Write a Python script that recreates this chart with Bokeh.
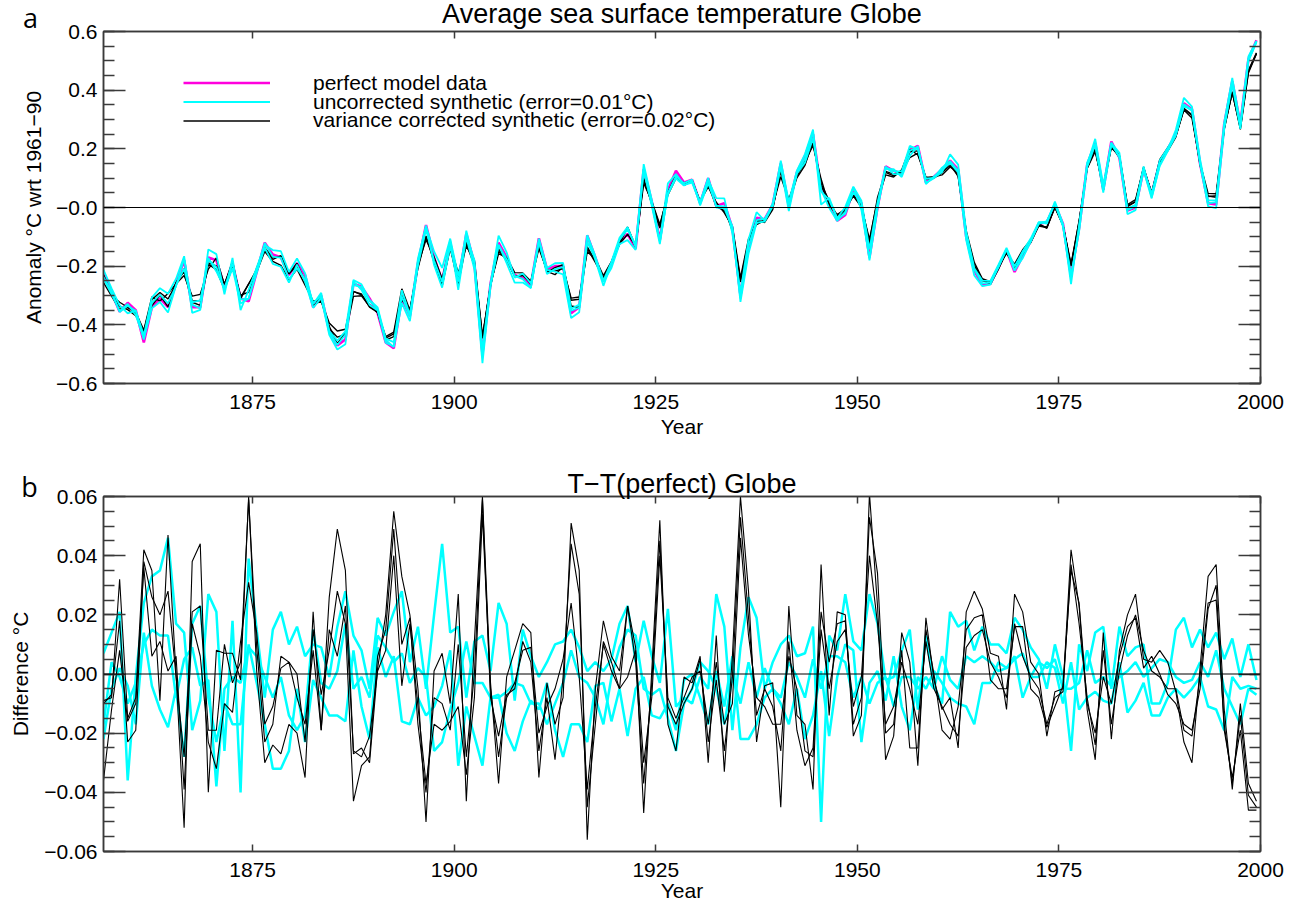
import numpy as np
from bokeh.plotting import figure
from bokeh.models import (Range1d, LinearAxis, FixedTicker, Span, Label, Legend, LegendItem,
                          CustomLabelingPolicy)
from bokeh.layouts import column
from bokeh.embed import file_html
from bokeh.resources import INLINE
from bokeh.core.properties import value

# ---------------- data ----------------
years = list(range(1856, 2000))

perfect = [
    -0.22, -0.29, -0.355, -0.325, -0.35, -0.46, -0.34, -0.31, -0.34, -0.26,
    -0.18, -0.34, -0.34, -0.17, -0.18, -0.27, -0.19, -0.31, -0.32, -0.22,
    -0.12, -0.16, -0.17, -0.23, -0.19, -0.23, -0.34, -0.30, -0.42, -0.47,
    -0.45, -0.26, -0.27, -0.31, -0.36, -0.46, -0.48, -0.31, -0.37, -0.19,
    -0.06, -0.17, -0.25, -0.12, -0.25, -0.09, -0.19, -0.50, -0.26, -0.12,
    -0.17, -0.23, -0.24, -0.265, -0.105, -0.21, -0.20, -0.20, -0.36, -0.34,
    -0.095, -0.17, -0.25, -0.19, -0.12, -0.09, -0.14, 0.13, 0.02, -0.11,
    0.06, 0.125, 0.085, 0.095, 0.015, 0.10, 0.005, 0.015, -0.07, -0.30,
    -0.135, -0.035, -0.04, 0.01, 0.15, 0.005, 0.12, 0.175, 0.25, 0.06,
    0.02, -0.045, -0.025, 0.06, 0.015, -0.17, 0.0, 0.14, 0.125, 0.115,
    0.195, 0.21, 0.085, 0.105, 0.13, 0.16, 0.13, -0.10, -0.215, -0.265,
    -0.26, -0.205, -0.145, -0.22, -0.165, -0.115, -0.055, -0.05, 0.01, -0.055,
    -0.235, -0.07, 0.145, 0.22, 0.06, 0.225, 0.17, -0.01, 0.0, 0.13,
    0.045, 0.155, 0.20, 0.25, 0.355, 0.335, 0.15, 0.015, 0.01, 0.285,
    0.43, 0.285, 0.505, 0.57,
]

# differences of the variance corrected synthetic series from the perfect data
diff_black_1 = [
    -0.009, -0.008, 0.032, -0.015, -0.008, 0.042, 0.035, -0.009, 0.047, 0.000,
    -0.052, 0.038, 0.044, -0.040, 0.008, 0.007, 0.007, -0.002, 0.060, 0.001,
    -0.030, -0.024, -0.027, -0.017, -0.020, -0.035, 0.021, -0.019, 0.026, 0.049,
    0.035, -0.027, -0.025, -0.030, 0.002, 0.020, 0.055, 0.033, 0.020, -0.005,
    -0.050, 0.001, 0.007, -0.010, 0.027, -0.043, 0.011, 0.060, -0.003, -0.037,
    -0.001, 0.008, 0.017, 0.014, -0.035, -0.003, -0.017, -0.008, 0.051, 0.035,
    -0.056, -0.005, 0.018, 0.006, 0.001, 0.023, 0.009, -0.047, 0.001, 0.052,
    -0.017, -0.026, -0.001, -0.003, 0.006, -0.030, 0.013, -0.033, 0.006, 0.060,
    0.028, -0.023, -0.004, -0.003, -0.045, 0.023, -0.014, -0.017, -0.039, 0.037,
    -0.014, 0.021, 0.020, -0.021, -0.014, 0.061, 0.023, -0.029, -0.021, 0.014,
    0.004, -0.031, 0.019, -0.002, -0.012, -0.008, -0.025, 0.021, 0.028, 0.022,
    0.007, 0.006, -0.012, 0.027, 0.021, 0.004, 0.000, -0.021, -0.006, -0.005,
    0.042, 0.023, -0.012, -0.029, 0.014, -0.022, 0.008, 0.020, 0.027, 0.005,
    0.004, 0.008, 0.004, -0.006, -0.023, -0.030, 0.002, 0.033, 0.037, -0.012,
    -0.039, -0.010, -0.037, -0.043,
]
diff_black_2 = [
    -0.010, -0.007, 0.018, -0.023, -0.019, 0.038, 0.026, 0.020, 0.028, -0.001,
    -0.028, 0.021, 0.023, -0.019, -0.019, 0.010, -0.003, 0.004, 0.059, 0.009,
    -0.023, -0.017, 0.006, 0.004, 0.000, -0.023, 0.015, -0.007, 0.008, 0.028,
    0.017, -0.043, -0.031, -0.028, 0.006, 0.015, 0.049, 0.010, 0.019, -0.017,
    -0.040, -0.008, -0.010, -0.019, 0.010, -0.028, 0.000, 0.059, -0.008, -0.021,
    -0.007, -0.005, 0.011, 0.004, -0.026, -0.008, -0.029, -0.001, 0.044, 0.027,
    -0.045, -0.017, 0.011, 0.004, -0.005, 0.023, 0.004, -0.037, -0.003, 0.045,
    -0.011, -0.017, -0.010, -0.005, 0.005, -0.023, -0.002, -0.026, -0.001, 0.053,
    0.019, -0.014, -0.005, -0.011, -0.026, 0.011, -0.019, -0.031, -0.025, 0.021,
    0.004, 0.017, 0.018, -0.017, -0.008, 0.053, 0.034, -0.020, -0.017, 0.008,
    -0.025, -0.025, 0.015, 0.000, -0.019, -0.022, -0.011, 0.015, 0.019, 0.020,
    -0.002, -0.005, -0.005, 0.016, 0.016, -0.005, -0.008, -0.018, -0.011, -0.004,
    0.035, 0.024, -0.010, -0.020, -0.001, -0.010, 0.006, 0.016, 0.019, 0.002,
    0.006, 0.000, -0.007, -0.010, -0.017, -0.019, -0.005, 0.022, 0.030, -0.019,
    -0.035, -0.019, -0.046, -0.046,
]
diff_black_3 = [
    -0.036, -0.012, 0.008, -0.016, -0.010, 0.036, 0.006, 0.011, 0.001, 0.006,
    -0.039, 0.017, 0.006, -0.023, -0.032, -0.010, -0.013, 0.011, 0.031, 0.014,
    -0.017, -0.011, 0.002, 0.004, -0.008, -0.017, 0.008, -0.019, 0.015, 0.006,
    0.023, -0.026, -0.028, -0.021, 0.001, 0.008, 0.040, -0.004, 0.017, -0.011,
    -0.037, -0.017, -0.019, -0.016, -0.011, -0.034, -0.008, 0.054, -0.005, -0.028,
    -0.008, -0.003, 0.008, 0.009, -0.020, -0.011, -0.005, 0.005, 0.024, -0.001,
    -0.039, -0.011, 0.010, 0.001, -0.005, -0.001, 0.008, -0.030, -0.008, 0.040,
    -0.008, -0.015, -0.008, -0.001, 0.001, -0.017, 0.004, -0.017, -0.010, 0.046,
    0.013, -0.008, -0.011, -0.017, -0.017, 0.006, -0.005, -0.026, -0.028, 0.015,
    -0.005, 0.011, 0.015, -0.011, -0.001, 0.040, 0.017, -0.017, -0.011, 0.004,
    -0.005, -0.017, 0.011, -0.005, -0.011, -0.017, -0.021, 0.009, 0.013, 0.015,
    0.004, -0.001, -0.008, 0.017, 0.006, -0.001, -0.005, -0.017, -0.008, -0.006,
    0.037, 0.017, -0.008, -0.024, 0.008, -0.017, 0.001, 0.013, 0.020, 0.008,
    0.001, -0.001, -0.005, -0.005, -0.019, -0.021, -0.001, 0.024, 0.025, -0.017,
    -0.037, -0.014, -0.041, -0.045,
]

# differences of the uncorrected synthetic series from the perfect data
diff_cyan_1 = [
    0.007, 0.014, 0.021, -0.036, -0.001, 0.024, 0.033, 0.035, 0.046, 0.017,
    0.014, -0.019, -0.009, 0.027, 0.021, -0.026, 0.018, -0.040, 0.039, 0.015,
    -0.008, 0.015, 0.021, 0.010, 0.016, 0.006, 0.010, 0.009, -0.001, 0.016,
    0.028, 0.013, 0.008, -0.005, 0.019, 0.013, 0.021, 0.028, 0.004, 0.016,
    -0.005, 0.020, 0.044, 0.014, 0.016, -0.008, 0.011, 0.013, 0.001, 0.024,
    0.017, -0.009, 0.015, 0.006, -0.001, 0.004, 0.010, 0.011, 0.015, 0.009,
    0.001, 0.004, 0.001, 0.005, 0.017, 0.023, 0.004, 0.018, 0.006, -0.003,
    0.022, -0.011, -0.008, -0.010, -0.001, -0.005, 0.027, 0.016, -0.019, 0.009,
    0.026, 0.019, -0.005, 0.004, 0.010, 0.013, 0.006, 0.007, 0.016, -0.050,
    0.013, 0.008, 0.027, 0.011, 0.008, 0.027, 0.017, -0.002, -0.001, 0.008,
    0.015, -0.012, 0.013, -0.004, -0.010, 0.021, 0.016, 0.018, 0.008, 0.016,
    0.010, 0.010, 0.007, 0.019, 0.015, 0.009, 0.005, -0.005, 0.010, -0.001,
    -0.026, 0.010, 0.001, 0.014, 0.016, -0.005, 0.016, 0.006, 0.009, 0.010,
    -0.010, -0.010, -0.003, 0.015, 0.019, 0.009, 0.015, 0.009, 0.014, 0.005,
    0.012, -0.001, 0.010, -0.002,
]
diff_cyan_2 = [
    -0.022, -0.005, 0.002, -0.004, -0.017, 0.014, -0.004, -0.012, -0.018, -0.005,
    -0.028, 0.017, 0.023, -0.008, -0.023, -0.010, -0.017, -0.017, 0.010, -0.003,
    -0.017, -0.032, -0.032, -0.026, -0.005, -0.023, -0.002, -0.008, -0.014, -0.014,
    -0.016, 0.008, -0.011, -0.022, 0.009, -0.001, 0.006, -0.016, -0.017, -0.008,
    -0.014, -0.011, -0.004, 0.008, -0.031, -0.011, -0.021, -0.031, -0.008, -0.007,
    -0.020, -0.026, -0.016, -0.009, -0.012, -0.003, -0.019, -0.028, -0.017, -0.017,
    -0.023, -0.004, -0.003, -0.016, -0.005, -0.021, -0.005, -0.001, -0.014, -0.015,
    -0.010, -0.019, -0.002, 0.000, -0.008, -0.017, 0.001, -0.011, 0.006, -0.022,
    -0.022, -0.017, -0.008, -0.005, -0.010, -0.017, -0.005, -0.022, -0.014, 0.001,
    -0.021, -0.001, 0.010, 0.008, -0.023, -0.003, 0.001, -0.009, 0.006, -0.011,
    -0.019, -0.001, -0.005, 0.001, -0.003, -0.008, -0.010, -0.011, -0.017, -0.003,
    -0.003, 0.004, 0.002, 0.006, -0.008, -0.001, -0.001, 0.004, 0.002, -0.010,
    0.004, -0.012, -0.008, -0.006, -0.009, -0.010, 0.004, -0.013, -0.009, -0.003,
    -0.014, -0.014, -0.008, -0.005, -0.008, -0.005, -0.001, -0.011, -0.012, -0.019,
    -0.001, -0.005, -0.004, -0.005,
]
diff_cyan_3 = [
    -0.017, 0.004, -0.001, -0.010, -0.003, 0.010, 0.015, 0.013, 0.013, -0.008,
    0.005, 0.009, -0.004, -0.002, -0.038, -0.005, -0.001, -0.003, 0.009, 0.006,
    -0.001, -0.008, -0.001, -0.014, -0.019, -0.014, 0.015, -0.003, -0.005, 0.001,
    0.017, -0.005, -0.001, -0.008, 0.013, 0.009, 0.004, 0.007, -0.003, 0.002,
    -0.001, -0.026, -0.023, -0.012, -0.003, 0.011, -0.003, -0.003, -0.008, -0.008,
    -0.006, -0.003, -0.004, -0.010, -0.010, -0.017, -0.010, -0.003, 0.008, -0.001,
    -0.003, -0.008, -0.017, -0.001, 0.009, 0.015, 0.013, -0.005, -0.007, -0.005,
    -0.015, -0.026, -0.010, -0.005, 0.004, 0.001, -0.005, -0.017, -0.001, -0.010,
    0.004, -0.008, 0.002, -0.005, -0.008, 0.004, -0.001, -0.008, 0.005, -0.005,
    0.006, 0.006, 0.004, -0.008, -0.001, -0.010, -0.003, -0.001, -0.011, -0.001,
    -0.001, -0.005, -0.001, -0.005, 0.006, -0.002, -0.005, 0.006, 0.004, 0.006,
    0.004, 0.001, 0.002, 0.005, 0.007, -0.001, 0.004, 0.002, 0.005, -0.005,
    -0.005, -0.003, 0.008, -0.003, -0.001, -0.004, -0.001, 0.001, 0.004, -0.001,
    0.002, 0.005, 0.004, -0.001, -0.003, -0.002, 0.004, -0.001, 0.008, -0.005,
    -0.011, -0.017, -0.005, -0.007,
]

x_ticks = [1875, 1900, 1925, 1950, 1975, 2000]
x_tick_labels = ["1875", "1900", "1925", "1950", "1975", "2000"]
top_yticks = [-0.6, -0.4, -0.2, 0.0, 0.2, 0.4, 0.6]
top_ylabels = ["\u22120.6", "\u22120.4", "\u22120.2", "\u22120.0", "0.2", "0.4", "0.6"]
bot_yticks = [-0.06, -0.04, -0.02, 0.0, 0.02, 0.04, 0.06]
bot_ylabels = ["\u22120.06", "\u22120.04", "\u22120.02", "0.00", "0.02", "0.04", "0.06"]

FONT = "Liberation Sans"
MAGENTA = "#ff00dd"
CYAN = "#00ffff"
AXC = "#3a3a3a"
X0, X1 = 1856.5, 2000.0

xs = np.array(years, dtype=float) + 0.5   # annual means plotted at mid-year
perf = np.array(perfect)
blacks = [np.array(d) for d in (diff_black_1, diff_black_2, diff_black_3)]
cyans = [np.array(d) for d in (diff_cyan_1, diff_cyan_2, diff_cyan_3)]

NO_LABELS = "for (const i of indices) indices.unset(i)"


def make_panel(ylim, yticks, ylabels, ystep, ylabel, ylabel_standoff, frame_h,
               border_top, border_bottom, xlab_standoff, year_standoff):
    p = figure(frame_width=1157, frame_height=frame_h,
               x_range=Range1d(X0, X1), y_range=Range1d(-ylim, ylim),
               output_backend="svg", toolbar_location=None,
               x_axis_location=None, y_axis_location=None,
               min_border_left=103, min_border_right=26,
               min_border_top=border_top, min_border_bottom=border_bottom)
    p.title.visible = False
    p.outline_line_color = AXC
    p.outline_line_width = 1.5
    p.background_fill_color = "white"
    p.border_fill_color = "white"
    for g in p.grid:
        g.visible = False

    minor = [round(-ylim + i * ystep, 4) for i in range(int(round(2 * ylim / ystep)) + 1)]
    for loc in ("below", "above"):
        ax = LinearAxis(ticker=FixedTicker(ticks=x_ticks, minor_ticks=[]),
                        major_tick_in=7, major_tick_out=0, minor_tick_in=0, minor_tick_out=0,
                        major_tick_line_color=AXC, major_tick_line_width=1.5,
                        axis_line_color=AXC, axis_line_width=1.5,
                        major_label_overrides=dict(zip(x_ticks, x_tick_labels)),
                        major_label_text_font=FONT, major_label_text_color="black")
        if loc == "below":
            ax.major_label_text_font_size = "21px"
            ax.major_label_standoff = xlab_standoff
            ax.axis_label = "Year"
            ax.axis_label_text_font = FONT
            ax.axis_label_text_font_size = "21px"
            ax.axis_label_text_font_style = "normal"
            ax.axis_label_text_color = "black"
            ax.axis_label_standoff = year_standoff
        else:
            ax.major_label_text_font_size = "0px"
            ax.major_label_standoff = 0
            ax.major_label_policy = CustomLabelingPolicy(code=NO_LABELS)
        p.add_layout(ax, loc)
    for loc in ("left", "right"):
        ax = LinearAxis(ticker=FixedTicker(ticks=yticks, minor_ticks=minor),
                        major_tick_in=22, major_tick_out=0, minor_tick_in=11, minor_tick_out=0,
                        major_tick_line_color=AXC, major_tick_line_width=1.5,
                        minor_tick_line_color=AXC, minor_tick_line_width=1.5,
                        axis_line_color=AXC, axis_line_width=1.5,
                        major_label_overrides=dict(zip(yticks, ylabels)),
                        major_label_text_font=FONT, major_label_text_color="black")
        if loc == "left":
            ax.major_label_text_font_size = "21px"
            ax.major_label_standoff = 6
            ax.axis_label = ylabel
            ax.axis_label_text_font = FONT
            ax.axis_label_text_font_size = "21px"
            ax.axis_label_text_font_style = "normal"
            ax.axis_label_text_color = "black"
            ax.axis_label_standoff = ylabel_standoff
        else:
            ax.major_label_text_font_size = "0px"
            ax.major_label_standoff = 0
            ax.major_label_policy = CustomLabelingPolicy(code=NO_LABELS)
        p.add_layout(ax, loc)
    p.add_layout(Span(location=0, dimension="width", line_color="black", line_width=1.2))
    return p


def note(p, side, text, x, y, size, font):
    # text centred on a position given in the panel's own scales, outside the frame
    p.add_layout(Label(x=x, y=y, x_units="data", y_units="data", text=text,
                       text_align="center", text_baseline="middle", text_color="black",
                       text_font=font, text_font_size=size), side)


# ---------------- panel a ----------------
p1 = make_panel(0.6, top_yticks, top_ylabels, 0.05, "Anomaly \u00b0C wrt 1961\u221290", 8,
                352, 31, 55, 11, 3)
r_mag = p1.line(xs, perf, line_color=MAGENTA, line_width=2.6)
r_blk = [p1.line(xs, perf + d, line_color="black", line_width=1.4) for d in blacks]
r_cyn = [p1.line(xs, perf + d, line_color=CYAN, line_width=1.8) for d in cyans]

for text, r, vy in (("perfect model data", r_mag, 288.0),
                    ("uncorrected synthetic (error=0.01\u00b0C)", r_cyn[0], 269.0),
                    ("variance corrected synthetic (error=0.02\u00b0C)", r_blk[0], 250.5)):
    lg = Legend(items=[LegendItem(label=value(text), renderers=[r])], location=(80, vy),
                glyph_width=87, glyph_height=25, label_height=25, label_standoff=43,
                padding=0, margin=0, spacing=0, border_line_color=None,
                background_fill_alpha=0, label_text_font=FONT, label_text_font_size="21px",
                label_text_color="black")
    p1.add_layout(lg)

note(p1, "above", "Average sea surface temperature Globe", (X0 + X1) / 2, 0.661, "27px", FONT)
note(p1, "right", "a", 1847.45, 0.6481, "27px", "Open Sans")

# ---------------- panel b ----------------
p2 = make_panel(0.06, bot_yticks, bot_ylabels, 0.005, "Difference \u00b0C", 9,
                355, 56, 48, 11, -1)
for d in cyans:
    p2.line(xs, d, line_color=CYAN, line_width=2.5)
for d in blacks:
    p2.line(xs, d, line_color="black", line_width=1.1)

note(p2, "above", "T\u2212T(perfect) Globe", (X0 + X1) / 2, 0.06429, "27px", FONT)
note(p2, "right", "b", 1847.32, 0.06352, "27px", "Open Sans")

layout = column(p1, p2, spacing=0)
open("out.html", "w").write(file_html(layout, INLINE))
